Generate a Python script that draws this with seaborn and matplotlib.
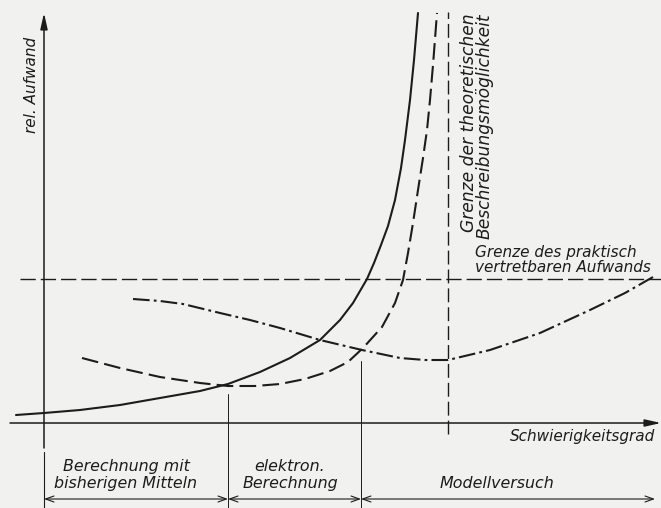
import matplotlib
matplotlib.use("Agg")
import matplotlib.pyplot as plt
import seaborn as sns
import pandas as pd

# difficulty (x) and relative effort (y)
bisher_x = [-28, 0, 36, 76, 116, 156, 184, 216, 246, 276, 296, 309, 316, 323, 330, 337, 344, 351, 357, 361, 366, 370, 374]
bisher_y = [8, 10, 13, 18, 25, 32, 39, 51, 65, 83, 103, 120, 132, 144, 160, 178, 197, 223, 255, 283, 323, 363, 410]

elektron_x = [38, 76, 116, 156, 184, 211, 236, 261, 286, 304, 319, 338, 351, 359, 364, 369, 374, 379, 383, 386, 389, 393]
elektron_y = [65, 55, 46, 40, 37, 37, 39, 44, 52, 61, 75, 96, 120, 143, 170, 200, 233, 265, 293, 323, 358, 410]

modell_x = [89, 116, 139, 176, 206, 236, 276, 318, 356, 381, 404, 446, 496, 546, 581, 609]
modell_y = [124, 122, 119, 110, 103, 95, 83, 73, 65, 63, 63, 73, 90, 113, 130, 146]

praktisch_grenze = 144      # effort limit (horizontal dashed)
theorie_grenze = 404        # difficulty limit (vertical dashed)
bereich_grenzen = [0, 184, 317, 611]
bereich_namen = ["Berechnung mit\nbisherigen Mitteln", "elektron.\nBerechnung", "Modellversuch"]
bereich_mitte = [82, 246, 453]
bereich_zeile = [-52, -52, -61]

ink = "#1c1c1c"
paper = "#f1f1f0"

sns.set_theme(style="white")
plt.rcParams["font.family"] = ["DejaVu Sans"]
plt.rcParams["lines.scale_dashes"] = False

fig = plt.figure(figsize=(6.61, 5.08), dpi=100, facecolor=paper)
ax = fig.add_axes([0, 0, 1, 1])
ax.set_facecolor(paper)
ax.set_xlim(-44, 617)
ax.set_ylim(-85, 423)
ax.axis("off")

curves = [
    (bisher_x, bisher_y, "-"),
    (elektron_x, elektron_y, (0, (12, 4.5))),
    (modell_x, modell_y, (0, (12, 3, 2, 3))),
]
for xs, ys, ls in curves:
    df = pd.DataFrame({"x": xs, "y": ys})
    sns.lineplot(data=df, x="x", y="y", sort=False, estimator=None, ax=ax,
                 color=ink, lw=1.5, linestyle=ls, solid_joinstyle="round")

# limit lines
ax.plot([-24, 617], [praktisch_grenze, praktisch_grenze], color=ink, lw=1.0,
        linestyle=(0, (11, 3.6)))
ax.plot([theorie_grenze, theorie_grenze], [-11, 411], color=ink, lw=1.0,
        linestyle=(0, (10, 3.6)))

# axes with arrows
ax.annotate("", xy=(0, 410), xytext=(0, -25),
            arrowprops=dict(arrowstyle="-|>,head_length=0.8,head_width=0.18",
                            color=ink, lw=1.1, shrinkA=0, shrinkB=0))
ax.annotate("", xy=(617, 0), xytext=(-34, 0),
            arrowprops=dict(arrowstyle="-|>,head_length=0.8,head_width=0.18",
                            color=ink, lw=1.1, shrinkA=0, shrinkB=0))

# region dividers and dimension arrows
ax.plot([0, 0], [-29, -85], color=ink, lw=0.8)
ax.plot([bereich_grenzen[1]] * 2, [29, -85], color=ink, lw=0.7)
ax.plot([bereich_grenzen[2]] * 2, [62, -85], color=ink, lw=0.7)
for a, b in zip(bereich_grenzen[:-1], bereich_grenzen[1:]):
    ax.annotate("", xy=(b, -76), xytext=(a, -76),
                arrowprops=dict(arrowstyle="<->,head_length=0.5,head_width=0.18",
                                color=ink, lw=0.8, shrinkA=0, shrinkB=0))

txt = dict(color=ink, style="italic")
for name, xm, ym in zip(bereich_namen, bereich_mitte, bereich_zeile):
    ax.text(xm, ym, name, ha="center", va="center", linespacing=1.2,
            fontsize=11.4, **txt)

ax.text(-13, 338, "rel. Aufwand", rotation=90, ha="center", va="center",
        fontsize=11, **txt)
ax.text(433, 410, "Grenze der theoretischen\nBeschreibungsmöglichkeit", rotation=90,
        ha="center", va="top", multialignment="right", linespacing=0.85,
        fontsize=12.3, **txt)
ax.text(431, 163, "Grenze des praktisch\nvertretbaren Aufwands", ha="left",
        va="center", linespacing=1.05, fontsize=11, **txt)
ax.text(611, -14, "Schwierigkeitsgrad", ha="right", va="center", fontsize=11, **txt)

fig.savefig("out.png", dpi=100, facecolor=paper)
